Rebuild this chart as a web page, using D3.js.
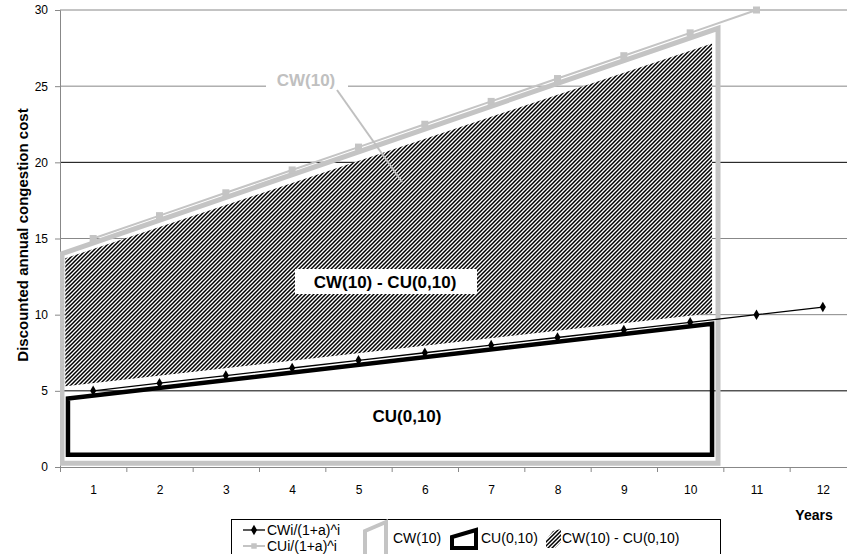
<!DOCTYPE html>
<html>
<head>
<meta charset="utf-8">
<script src="https://cdn.jsdelivr.net/npm/d3@7"></script>
<style>
  body { margin: 0; background: #fff; }
  svg { font-family: "Liberation Sans", Arial, sans-serif; display: block; }
</style>
</head>
<body>
<svg id="chart" width="847" height="554"></svg>
<script>
// data
var years = [1, 2, 3, 4, 5, 6, 7, 8, 9, 10, 11, 12];
var cwDisc = [5, 5.5, 6, 6.5, 7, 7.5, 8, 8.5, 9, 9.5, 10, 10.5];
var cuDisc = [15, 16.5, 18, 19.5, 21, 22.5, 24, 25.5, 27, 28.5, 30];
var yTicks = [0, 5, 10, 15, 20, 25, 30];
var gridColor = {5: "#000", 20: "#000"};
// area shapes in (year, value) units
var cw10Shape = [[0.53, 0.25], [0.53, 14.0], [10.42, 28.8], [10.42, 0.25]];
var cu010Shape = [[0.62, 0.8], [0.62, 4.5], [10.33, 9.4], [10.33, 0.8]];
var hatchShape = [[0.58, 5.3], [0.58, 13.7], [10.33, 27.8], [10.33, 10.1]];

var svg = d3.select("#chart");
var plotLeft = 60, plotRight = 856, plotTop = 10, plotBottom = 467;

var x = d3.scaleLinear().domain([0.5, 12.5]).range([plotLeft, plotRight]);
var y = d3.scaleLinear().domain([0, 30]).range([plotBottom, plotTop]);

// hatch pattern
var defs = svg.append("defs");
var pat = defs.append("pattern")
  .attr("id", "hatch")
  .attr("patternUnits", "userSpaceOnUse")
  .attr("width", 4).attr("height", 4);
pat.append("rect").attr("width", 4).attr("height", 4).attr("fill", "#fff");
pat.append("path")
  .attr("d", "M-1,1 l2,-2 M0,4 l4,-4 M3,5 l2,-2")
  .attr("stroke", "#000").attr("stroke-width", 1.5);

defs.append("clipPath").attr("id", "plotclip")
  .append("rect").attr("x", plotLeft).attr("y", plotTop - 4)
  .attr("width", plotRight - plotLeft).attr("height", plotBottom - plotTop + 4);

// gridlines
svg.append("g").selectAll("line")
  .data(yTicks.filter(function(d) { return d > 0; }))
  .enter().append("line")
  .attr("x1", plotLeft).attr("x2", plotRight)
  .attr("y1", function(d) { return y(d); })
  .attr("y2", function(d) { return y(d); })
  .attr("stroke", function(d) { return gridColor[d] || "#888"; })
  .attr("stroke-width", 1);

// y axis
var yAxis = svg.append("g")
  .attr("transform", "translate(" + plotLeft + ",0)")
  .call(d3.axisLeft(y).tickValues(yTicks).tickSize(5).tickPadding(7));
yAxis.select(".domain").attr("stroke", "#888");
yAxis.selectAll(".tick line").attr("stroke", "#888");
yAxis.selectAll("text").attr("font-size", 12).attr("fill", "#000");

// x axis: boundary ticks + centred labels
var xTickAxis = svg.append("g")
  .attr("transform", "translate(0," + plotBottom + ")")
  .call(d3.axisBottom(x).tickValues(d3.range(0.5, 13, 1)).tickSize(5).tickFormat(""));
xTickAxis.select(".domain").attr("stroke", "#888");
xTickAxis.selectAll(".tick line").attr("stroke", "#888");

var xLab = svg.append("g")
  .attr("transform", "translate(0," + plotBottom + ")")
  .call(d3.axisBottom(x).tickValues(years).tickSize(0).tickPadding(18).tickFormat(d3.format("d")));
xLab.select(".domain").remove();
xLab.selectAll("text").attr("font-size", 12).attr("fill", "#000");

var line = d3.line()
  .x(function(d) { return x(d[0]); })
  .y(function(d) { return y(d[1]); });

var plot = svg.append("g").attr("clip-path", "url(#plotclip)");

// hatched region CW(10) - CU(0,10)
plot.append("path")
  .attr("d", line(hatchShape) + "Z")
  .attr("fill", "url(#hatch)");

// CW(10) outline
plot.append("path")
  .attr("d", line(cw10Shape) + "Z")
  .attr("fill", "none")
  .attr("stroke", "#c4c4c4")
  .attr("stroke-width", 5)
  .attr("stroke-linejoin", "miter");

// CU(0,10) outline
plot.append("path")
  .attr("d", line(cu010Shape) + "Z")
  .attr("fill", "none")
  .attr("stroke", "#000")
  .attr("stroke-width", 4.5)
  .attr("stroke-linejoin", "miter");

// CUi/(1+a)^i series
var cuPts = cuDisc.map(function(v, i) { return [years[i], v]; });
plot.append("path")
  .attr("d", line(cuPts))
  .attr("fill", "none")
  .attr("stroke", "#c4c4c4")
  .attr("stroke-width", 2);
plot.selectAll(".cuMark")
  .data(cuPts)
  .enter().append("rect")
  .attr("class", "cuMark")
  .attr("x", function(d) { return x(d[0]) - 3.5; })
  .attr("y", function(d) { return y(d[1]) - 3.5; })
  .attr("width", 7).attr("height", 7)
  .attr("fill", "#c4c4c4");

// CWi/(1+a)^i series
var cwPts = cwDisc.map(function(v, i) { return [years[i], v]; });
svg.append("path")
  .attr("d", line(cwPts))
  .attr("fill", "none")
  .attr("stroke", "#000")
  .attr("stroke-width", 1.3);
svg.selectAll(".cwMark")
  .data(cwPts)
  .enter().append("path")
  .attr("class", "cwMark")
  .attr("transform", function(d) { return "translate(" + x(d[0]) + "," + y(d[1]) + ")"; })
  .attr("d", d3.symbol().type(d3.symbolDiamond).size(32))
  .attr("fill", "#000");

// annotations
svg.append("rect").attr("x", 266).attr("y", 68).attr("width", 82).attr("height", 24).attr("fill", "#fff");
svg.append("text")
  .attr("x", 306).attr("y", 86)
  .attr("text-anchor", "middle")
  .attr("font-size", 17).attr("font-weight", "bold")
  .attr("fill", "#c0c0c0")
  .text("CW(10)");
svg.append("line")
  .attr("x1", 337).attr("y1", 90).attr("x2", 402).attr("y2", 182)
  .attr("stroke", "#c0c0c0").attr("stroke-width", 2);

svg.append("rect").attr("x", 295).attr("y", 269).attr("width", 182).attr("height", 25).attr("fill", "#fff");
svg.append("text")
  .attr("x", 385).attr("y", 288)
  .attr("text-anchor", "middle")
  .attr("font-size", 17).attr("font-weight", "bold")
  .text("CW(10) - CU(0,10)");

svg.append("text")
  .attr("x", 407).attr("y", 422)
  .attr("text-anchor", "middle")
  .attr("font-size", 17).attr("font-weight", "bold")
  .text("CU(0,10)");

// axis titles
svg.append("text")
  .attr("transform", "translate(28,235) rotate(-90)")
  .attr("text-anchor", "middle")
  .attr("font-size", 15).attr("font-weight", "bold")
  .text("Discounted annual congestion cost");
svg.append("text")
  .attr("x", 814).attr("y", 520)
  .attr("text-anchor", "middle")
  .attr("font-size", 14).attr("font-weight", "bold")
  .text("Years");

// legend
var lg = svg.append("g");
lg.append("rect").attr("x", 231.5).attr("y", 519.5).attr("width", 489).attr("height", 44)
  .attr("fill", "#fff").attr("stroke", "#000").attr("stroke-width", 1);

var seriesLegend = [
  {label: "CWi/(1+a)^i", color: "#000", mark: "diamond", y: 530},
  {label: "CUi/(1+a)^i", color: "#c4c4c4", mark: "square", y: 546}
];
seriesLegend.forEach(function(s) {
  lg.append("line").attr("x1", 243).attr("x2", 265).attr("y1", s.y).attr("y2", s.y)
    .attr("stroke", s.color).attr("stroke-width", s.mark == "diamond" ? 1.3 : 2);
  lg.append("path")
    .attr("transform", "translate(254," + s.y + ")")
    .attr("d", d3.symbol().type(s.mark == "diamond" ? d3.symbolDiamond : d3.symbolSquare).size(s.mark == "diamond" ? 32 : 30))
    .attr("fill", s.color);
  lg.append("text").attr("x", 267).attr("y", s.y + 5).attr("font-size", 14).text(s.label);
});

// shape icons
lg.append("path").attr("d", "M365,556 L365,531 L386,522 L386,556 Z")
  .attr("fill", "none").attr("stroke", "#c4c4c4").attr("stroke-width", 4);
lg.append("text").attr("x", 393).attr("y", 543).attr("font-size", 14).text("CW(10)");

lg.append("path").attr("d", "M452,548 L452,537 L476,530 L476,548 Z")
  .attr("fill", "none").attr("stroke", "#000").attr("stroke-width", 4);
lg.append("text").attr("x", 481).attr("y", 543).attr("font-size", 14).text("CU(0,10)");

lg.append("path").attr("d", "M546,540 L553,531 L561,529 L561,542 L555,548 L546,548 Z")
  .attr("fill", "url(#hatch)");
lg.append("text").attr("x", 562).attr("y", 543).attr("font-size", 14).text("CW(10) - CU(0,10)");
</script>
</body>
</html>
